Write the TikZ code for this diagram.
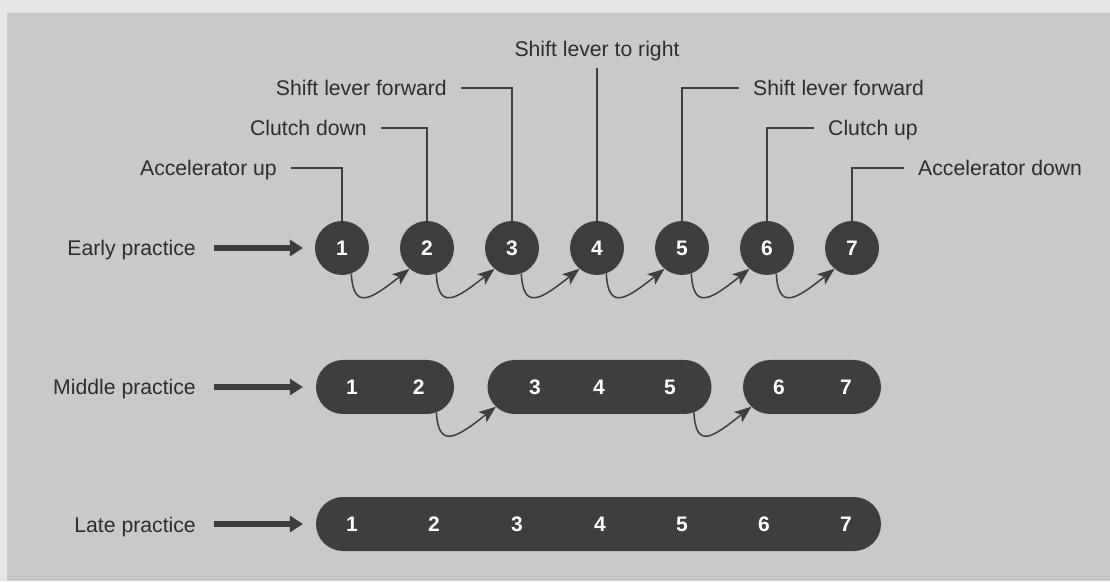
\documentclass[tikz,border=0pt]{standalone}
\usepackage{fontspec}
\setmainfont{Liberation Sans}
\usetikzlibrary{arrows.meta,shapes.misc}
\definecolor{paper}{RGB}{228,229,230}
\definecolor{panel}{RGB}{199,201,203}
\definecolor{ink}{RGB}{62,62,64}
\definecolor{txt}{RGB}{45,45,45}

\begin{document}
\begin{tikzpicture}[x=1pt,y=1pt,
  lbl/.style={text=txt, font=\fontsize{21.2}{25}\selectfont, inner sep=0pt, text height=16pt, text depth=0pt},
  stepdot/.style={circle, fill=ink, minimum size=54pt, inner sep=0pt, text=white, font=\fontsize{21}{25}\selectfont\bfseries},
  pill/.style={rounded rectangle, fill=ink, minimum height=54pt, inner sep=0pt},
  num/.style={text=white, font=\fontsize{21}{25}\selectfont\bfseries, inner sep=0pt},
  conn/.style={draw=ink, line width=1.3pt},
  hop/.style={draw=ink, line width=1.5pt, -{Stealth[length=17pt,width=13pt,inset=4pt]}},
  feed/.style={draw=ink, line width=5.5pt, -{Triangle[length=13pt,width=17pt,line width=0pt]}, shorten <=18pt},
]
% page and grey panel
\fill[paper] (0,0) rectangle (1110,581);
\fill[panel] (7,0) rectangle (1110,568);
\useasboundingbox (0,0) rectangle (1110,581);

% early practice: seven separate steps
\foreach \i/\x in {1/342,2/427,3/512,4/597,5/682,6/767,7/852}
  \node[stepdot] (c\i) at (\x,333) {\i};

\node[lbl, anchor=east] (la1) at (277,413) {Accelerator up};
\node[lbl, anchor=east] (la2) at (367,453) {Clutch down};
\node[lbl, anchor=east] (la3) at (447,493) {Shift lever forward};
\node[lbl, anchor=south] (la4) at (597,524) {Shift lever to right};
\node[lbl, anchor=west] (la5) at (753,493) {Shift lever forward};
\node[lbl, anchor=west] (la6) at (828,453) {Clutch up};
\node[lbl, anchor=west] (la7) at (918,413) {Accelerator down};

\draw[conn] ([xshift=14pt]la1.east) -| (c1);
\draw[conn] ([xshift=14pt]la2.east) -| (c2);
\draw[conn] ([xshift=14pt]la3.east) -| (c3);
\draw[conn] ([yshift=-11pt]la4.south) -- (c4);
\draw[conn] (c5) |- ([xshift=-14pt]la5.west);
\draw[conn] (c6) |- ([xshift=-14pt]la6.west);
\draw[conn] (c7) |- ([xshift=-14pt]la7.west);

\foreach \i/\j in {1/2,2/3,3/4,4/5,5/6,6/7}
  \draw[hop] (c\i.-70) .. controls +(2,-38) and +(-38,-30) .. (c\j.230);

\node[lbl, anchor=east] (ep) at (196,333) {Early practice};
\draw[feed, shorten >=12pt] (ep.east) -- (c1.west);

% middle practice: three chunks
\node[pill, minimum width=138pt] (pa) at (385,194) {};
\node[pill, minimum width=224pt] (pb) at (599.5,194) {};
\node[pill, minimum width=138pt] (pc) at (812,194) {};
\foreach \i/\x in {1/352,2/418.6,3/535,4/599,5/670,6/779,7/846}
  \node[num] (m\i) at (\x,194) {\i};

\node[lbl, anchor=east] (mp) at (196,194) {Middle practice};
\draw[feed, shorten >=13pt] (mp.east) -- (pa.west);

\draw[hop] ([shift={(-17.8pt,-25.4pt)}]pa.east) .. controls +(2,-38) and +(-38,-30) .. ([shift={(8.6pt,-19.7pt)}]pb.west);
\draw[hop] ([shift={(-17.8pt,-25.4pt)}]pb.east) .. controls +(2,-38) and +(-38,-30) .. ([shift={(8.6pt,-19.7pt)}]pc.west);

% late practice: one unit
\node[pill, minimum width=565pt] (pl) at (598.5,57) {};
\foreach \i/\x in {1/352,2/434,3/517,4/600,5/682,6/764,7/846}
  \node[num] (l\i) at (\x,57) {\i};

\node[lbl, anchor=east] (lp) at (196,57) {Late practice};
\draw[feed, shorten >=13pt] (lp.east) -- (pl.west);
\end{tikzpicture}
\end{document}
